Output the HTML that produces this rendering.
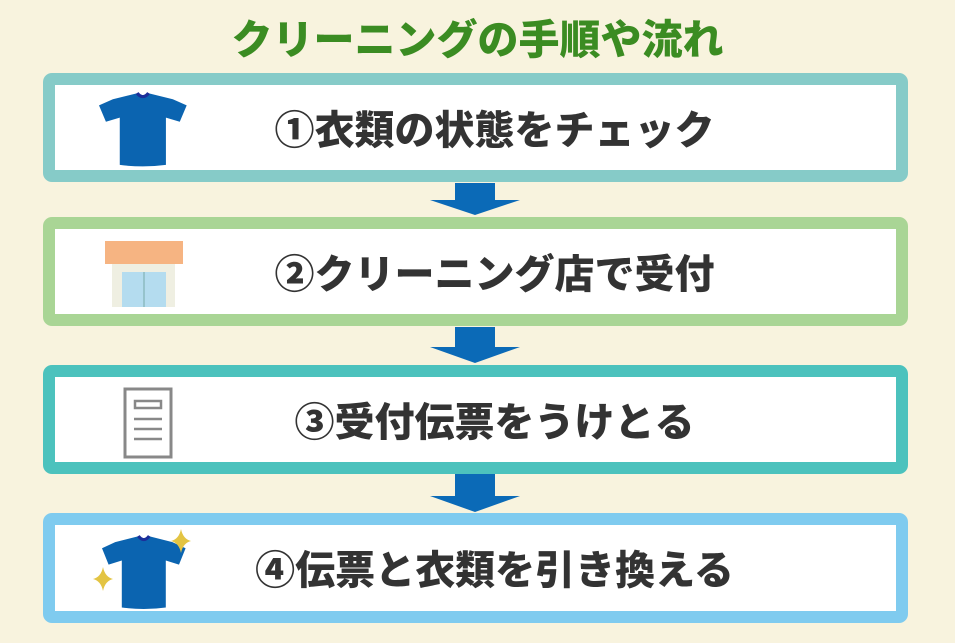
<!DOCTYPE html>
<html><head><meta charset="utf-8"><style>
body{margin:0;width:955px;height:643px;background:#f8f3de;position:relative;overflow:hidden;font-family:"Liberation Sans","Noto Sans CJK JP",sans-serif}
.t{position:absolute;left:0;width:955px;top:14px;text-align:center;font-size:41px;font-weight:900;color:#3b8c22;line-height:52px}
.b{position:absolute;left:43px;width:841px;background:#fff;border:12px solid;border-radius:9px}
.b span{position:absolute;left:38px;right:0;text-align:center;font-size:40px;font-weight:900;color:#333;top:50%;transform:translateY(-52%);white-space:nowrap}
.b svg{position:absolute}
.a{position:absolute;left:430px}
</style></head><body>
<div class="t">クリーニングの手順や流れ</div>

<div class="b" style="top:73px;height:85px;border-color:#86cbc8"><span>①衣類の状態をチェック</span>
<svg style="left:44px;top:6px" width="90" height="78" viewBox="0 0 78 76" preserveAspectRatio="none"><path d="M34 2 L12 8 L0 14 L6 30 L18 26 L18 72 Q38 75 58 72 L58 26 L70 30 L76 14 L64 8 L42 2 Q38 6 34 2Z" fill="#0b64b0"/><path d="M33 2 Q38 9 43 2" fill="none" stroke="#1b2e9a" stroke-width="3"/></svg></div>

<div class="a" style="top:183px"><svg width="90" height="32"><path d="M25 0H65V17H90L45 32L0 17H25Z" fill="#0b6ab7"/></svg></div>

<div class="b" style="top:217px;height:85px;border-color:#a9d595"><span>②クリーニング店で受付</span>
<svg style="left:50px;top:12px" width="80" height="68"><rect x="0" y="0" width="78" height="23" fill="#f6b482"/><rect x="7" y="23" width="63" height="43" fill="#efefe2"/><rect x="17" y="31" width="44" height="35" fill="#b4dcef"/><line x1="39" y1="31" x2="39" y2="66" stroke="#7aa" stroke-width="1"/></svg></div>

<div class="a" style="top:327px"><svg width="90" height="36"><path d="M25 0H65V20H90L45 36L0 20H25Z" fill="#0b6ab7"/></svg></div>

<div class="b" style="top:365px;height:85px;border-color:#4cc2bd"><span>③受付伝票をうけとる</span>
<svg style="left:68px;top:10px" width="52" height="74"><rect x="2" y="2" width="46" height="68" fill="#fff" stroke="#888" stroke-width="3"/><rect x="12" y="14" width="26" height="7" fill="none" stroke="#888" stroke-width="2.5"/><line x1="11" y1="32" x2="39" y2="32" stroke="#888" stroke-width="2.5"/><line x1="11" y1="42" x2="39" y2="42" stroke="#888" stroke-width="2.5"/><line x1="11" y1="52" x2="39" y2="52" stroke="#888" stroke-width="2.5"/></svg></div>

<div class="a" style="top:474px"><svg width="90" height="38"><path d="M25 0H65V22H90L45 38L0 22H25Z" fill="#0b6ab7"/></svg></div>

<div class="b" style="top:513px;height:86px;border-color:#7fcbef"><span>④伝票と衣類を引き換える</span>
<svg style="left:36px;top:4px" width="110" height="82"><g transform="translate(11,5) scale(1.1,1.02)"><path d="M34 2 L12 8 L0 14 L6 30 L18 26 L18 72 Q38 75 58 72 L58 26 L70 30 L76 14 L64 8 L42 2 Q38 6 34 2Z" fill="#0b64b0"/><path d="M33 2 Q38 9 43 2" fill="none" stroke="#1b2e9a" stroke-width="3"/></g><path d="M90 0 Q92 10 100 12 Q92 14 90 24 Q88 14 80 12 Q88 10 90 0Z" fill="#e3c443"/><path d="M12 38 Q14 48 22 50 Q14 52 12 62 Q10 52 2 50 Q10 48 12 38Z" fill="#e3c443"/></svg></div>
</body></html>
